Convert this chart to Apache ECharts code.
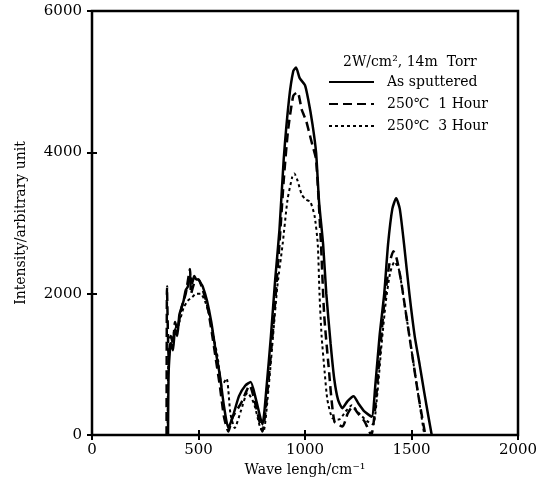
<!DOCTYPE html>
<html><head><meta charset="utf-8">
<script src="https://cdn.jsdelivr.net/npm/echarts@6/dist/echarts.min.js"></script>
<style>html,body{margin:0;padding:0;background:#fff}#c{width:552px;height:489px}</style>
</head><body><div id="c"></div>
<script>
const seriesNames = ["As sputtered", "250\u2103  1 Hour", "250\u2103  3 Hour"];
const xTicks = [0, 500, 1000, 1500, 2000];
const yTicks = [0, 2000, 4000, 6000];

const asX = [357,360,370,380,390,400,410,420,430,440,450,460,470,480,490,500,510,520,540,560,580,600,620,640,660,690,720,745,770,800,820,840,860,880,900,925,945,958,975,1000,1015,1035,1052,1066,1085,1100,1120,1137,1155,1175,1200,1228,1250,1280,1313,1330,1350,1372,1390,1410,1428,1445,1465,1490,1515,1538,1560,1580,1595];
const asY = [0,900,1300,1200,1500,1400,1700,1800,1900,2050,2100,2250,2150,2250,2200,2200,2150,2100,1900,1600,1200,850,400,100,250,550,700,750,500,150,700,1400,2200,2900,3900,4750,5150,5200,5050,4950,4750,4400,4000,3300,2700,2000,1300,800,500,380,480,550,450,330,260,700,1400,2000,2700,3200,3350,3200,2700,2000,1400,1000,600,250,0];

const h1X = [350,352,356,360,370,380,390,400,420,440,460,465,480,500,520,540,560,580,600,620,640,660,700,740,770,800,820,850,880,900,920,945,965,985,1005,1018,1035,1052,1075,1090,1110,1138,1176,1200,1223,1250,1280,1311,1330,1350,1370,1395,1415,1430,1450,1470,1490,1510,1530,1550,1565];
const h1Y = [0,2100,1500,1100,1400,1300,1600,1500,1800,2000,2350,2000,2150,2200,2050,1850,1500,1100,700,250,50,250,450,700,400,50,500,1500,2700,3600,4300,4800,4850,4600,4450,4300,4100,3900,2700,1700,1000,190,120,300,400,300,190,0,400,1100,1800,2400,2600,2500,2200,1800,1400,1000,600,250,0];

const h3X = [355,358,370,390,410,430,450,470,490,510,530,550,570,590,610,632,650,670,700,730,760,790,805,830,850,870,895,918,940,950,965,985,1005,1025,1045,1060,1068,1078,1092,1105,1128,1160,1190,1220,1250,1290,1320,1340,1360,1380,1400,1420,1440,1460,1480,1500,1520,1540,1560];
const h3Y = [0,1000,1300,1500,1600,1800,1900,1950,2000,2000,1900,1700,1400,1100,700,800,300,100,350,600,450,100,50,700,1400,2100,2700,3330,3650,3700,3600,3400,3330,3300,3100,2700,2000,1400,900,500,240,220,330,420,320,200,150,600,1300,1900,2300,2450,2350,2000,1600,1200,800,400,0];

const zip = (xs, ys) => xs.map((x, i) => [x, ys[i]]);
const F = "DejaVu Serif";
const chart = echarts.init(document.getElementById('c'), null, {renderer: 'canvas'});
const lineBase = {type: 'line', showSymbol: false, symbol: 'none', smooth: 0.2, animation: false};
const plain = v => String(v);
chart.setOption({
  animation: false,
  grid: {left: 92, right: 34, top: 11, bottom: 54, show: true, borderColor: '#000', borderWidth: 2.5, backgroundColor: 'transparent'},
  title: {text: '2W/cm\u00b2, 14m  Torr', left: 338, top: 50, textStyle: {fontFamily: F, fontSize: 14, fontWeight: 'normal', color: '#000'}},
  legend: {
    orient: 'vertical', left: 328, top: 75, padding: 0, itemWidth: 45, itemHeight: 10, itemGap: 8,
    itemStyle: {color: 'transparent', borderColor: 'transparent', borderWidth: 0, opacity: 0},
    textStyle: {fontFamily: F, fontSize: 14, color: '#000', padding: [0, 0, 0, 8]},
    data: seriesNames
  },
  xAxis: [
    {type: 'value', min: xTicks[0], max: xTicks[xTicks.length-1], interval: 500,
     name: 'Wave lengh/cm\u207b\u00b9', nameLocation: 'middle', nameGap: 28,
     nameTextStyle: {fontFamily: F, fontSize: 14, color: '#000'},
     axisLine: {show: false}, splitLine: {show: false},
     axisTick: {inside: true, length: 5, lineStyle: {color: '#000', width: 2}},
     axisLabel: {fontFamily: F, fontSize: 15, color: '#000', margin: 8, formatter: plain}},
    {type: 'value', position: 'top', min: 0, max: 2000, interval: 500,
     axisLine: {show: false}, splitLine: {show: false}, axisLabel: {show: false},
     axisTick: {inside: true, length: 5, lineStyle: {color: '#000', width: 2}}}
  ],
  yAxis: [
    {type: 'value', min: yTicks[0], max: yTicks[yTicks.length-1], interval: 2000,
     name: 'Intensity/arbitrary unit', nameLocation: 'middle', nameGap: 64,
     nameTextStyle: {fontFamily: F, fontSize: 14, color: '#000'},
     axisLine: {show: false}, splitLine: {show: false},
     axisTick: {inside: true, length: 5, lineStyle: {color: '#000', width: 2}},
     axisLabel: {fontFamily: F, fontSize: 15, color: '#000', margin: 10, formatter: plain}},
    {type: 'value', position: 'right', min: 0, max: 6000, interval: 2000,
     axisLine: {show: false}, splitLine: {show: false}, axisLabel: {show: false},
     axisTick: {inside: true, length: 5, lineStyle: {color: '#000', width: 2}}}
  ],
  series: [
    Object.assign({}, lineBase, {name: seriesNames[0], data: zip(asX, asY), lineStyle: {color: '#000', width: 2.5, type: 'solid'}, itemStyle: {color: '#000'}}),
    Object.assign({}, lineBase, {name: seriesNames[1], data: zip(h1X, h1Y), lineStyle: {color: '#000', width: 2.5, type: [9, 5]}, itemStyle: {color: '#000'}}),
    Object.assign({}, lineBase, {name: seriesNames[2], data: zip(h3X, h3Y), lineStyle: {color: '#000', width: 2, type: [3, 3]}, itemStyle: {color: '#000'}})
  ]
});
</script></body></html>
